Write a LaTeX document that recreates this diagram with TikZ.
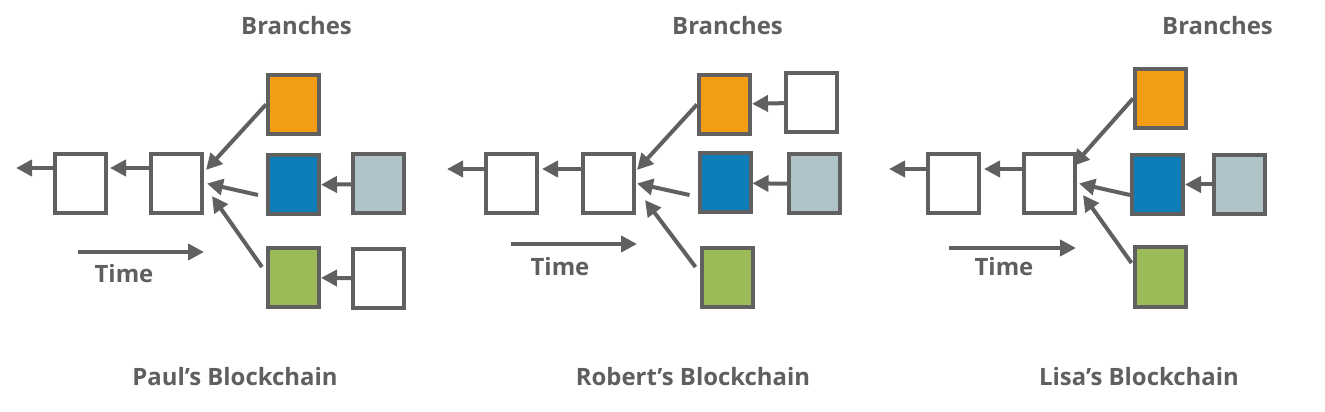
\documentclass[tikz,border=0pt]{standalone}
\usepackage{fontspec}
\setmainfont{Open Sans}
\usetikzlibrary{arrows.meta,calc}
\definecolor{edgegray}{RGB}{96,96,96}
\definecolor{txtgray}{RGB}{95,95,95}
\definecolor{brorange}{RGB}{242,157,20}
\definecolor{brblue}{RGB}{14,126,184}
\definecolor{brgray}{RGB}{176,195,200}
\definecolor{brgreen}{RGB}{155,187,88}

\begin{document}
\begin{tikzpicture}[x=0.25mm,y=-0.25mm,
      blk/.style={draw=edgegray,line width=1mm,minimum width=12.75mm,minimum height=14.75mm,
                  inner sep=0pt,fill=white},
      arr/.style={-{Triangle[length=4mm,width=4mm]},line width=1mm,draw=edgegray},
      lbl/.style={font=\bfseries\fontsize{17pt}{20pt}\selectfont,text=txtgray,anchor=base}
    ]
    \useasboundingbox (0,0) rectangle (1325,412);

    % Paul
    \node[blk] (a1) at (80.5,183.5) {};
    \node[blk] (b1) at (176.5,183.5) {};
    \node[blk,fill=brorange] (o1) at (293.5,104.5) {};
    \node[blk,fill=brblue]   (u1) at (293.5,185) {};
    \node[blk,fill=brgray]   (g1) at (378.5,184) {};
    \node[blk,fill=brgreen]  (n1) at (293.5,277.5) {};
    \node[blk]               (w1) at (378.5,278.5) {};
    \coordinate (end1) at (16,168);
    \coordinate (ts1) at (78,252);
    \coordinate (te1) at (204,252);
    \draw[arr] ($(a1.west)+(0,-15.5)$) -- (end1);
    \draw[arr] ($(b1.west)+(0,-15.5)$) -- ($(a1.east)+(2,-15.5)$);
    \draw[arr] (o1.west) -- ($(b1.east)+(2,-13.5)$);
    \draw[arr] ($(u1.west)+(-8,10)$) -- ($(b1.east)+(3,0)$);
    \draw[arr] ($(n1.west)+(-4,-10.5)$) -- ($(b1.east)+(8,12.5)$);
    \draw[arr] (g1) -- (u1);
    \draw[arr] (w1) -- (n1);
    \draw[arr] (ts1) -- (te1);
    \node[lbl] (time1) at (124,283) {Time};
    \node[lbl] (br1) at (296.5,35) {Branches};
    \node[lbl] (ti1) at (235,385) {Paul’s Blockchain};

    % Robert
    \node[blk] (a2) at (511.5,183.5) {};
    \node[blk] (b2) at (608.5,183.5) {};
    \node[blk,fill=brorange] (o2) at (724.5,104.5) {};
    \node[blk]               (w2) at (811.5,102.5) {};
    \node[blk,fill=brblue]   (u2) at (725,183) {};
    \node[blk,fill=brgray]   (g2) at (814.5,184) {};
    \node[blk,fill=brgreen]  (n2) at (727,277.5) {};
    \coordinate (end2) at (447,169);
    \coordinate (ts2) at (511,244);
    \coordinate (te2) at (637,244);
    \draw[arr] ($(a2.west)+(0,-14.5)$) -- (end2);
    \draw[arr] ($(b2.west)+(0,-14.5)$) -- ($(a2.east)+(3,-14.5)$);
    \draw[arr] (o2.west) -- ($(b2.east)+(1,-13.5)$);
    \draw[arr] ($(u2.west)+(-8,12)$) -- ($(b2.east)+(1,0)$);
    \draw[arr] ($(n2.west)+(-4,-10.5)$) -- ($(b2.east)+(9,16.5)$);
    \draw[arr] (w2) -- (o2);
    \draw[arr] (g2) -- (u2);
    \draw[arr] (ts2) -- (te2);
    \node[lbl] (time2) at (560,276) {Time};
    \node[lbl] (br2) at (727.5,35) {Branches};
    \node[lbl] (ti2) at (693,385) {Robert’s Blockchain};

    % Lisa
    \node[blk] (a3) at (953.5,183.5) {};
    \node[blk] (b3) at (1049.5,183.5) {};
    \node[blk,fill=brorange] (o3) at (1160.5,98.5) {};
    \node[blk,fill=brblue]   (u3) at (1157.5,184.5) {};
    \node[blk,fill=brgray]   (g3) at (1239.5,184.5) {};
    \node[blk,fill=brgreen]  (n3) at (1160,277) {};
    \coordinate (end3) at (889,169);
    \coordinate (ts3) at (949,248);
    \coordinate (te3) at (1076,248);
    \draw[arr] ($(a3.west)+(0,-14.5)$) -- (end3);
    \draw[arr] ($(b3.west)+(0,-14.5)$) -- ($(a3.east)+(3,-14.5)$);
    \draw[arr] (o3.west) -- ($(b3.east)+(-4,-17.5)$);
    \draw[arr] ($(u3.west)+(0,10.5)$) -- ($(b3.east)+(2,0)$);
    \draw[arr] ($(n3.west)+(-1,-14)$) -- ($(b3.east)+(6,11.5)$);
    \draw[arr] (g3) -- (u3);
    \draw[arr] (ts3) -- (te3);
    \node[lbl] (time3) at (1004,276) {Time};
    \node[lbl] (br3) at (1217.5,35) {Branches};
    \node[lbl] (ti3) at (1139,385) {Lisa’s Blockchain};
  \end{tikzpicture}
\end{document}
